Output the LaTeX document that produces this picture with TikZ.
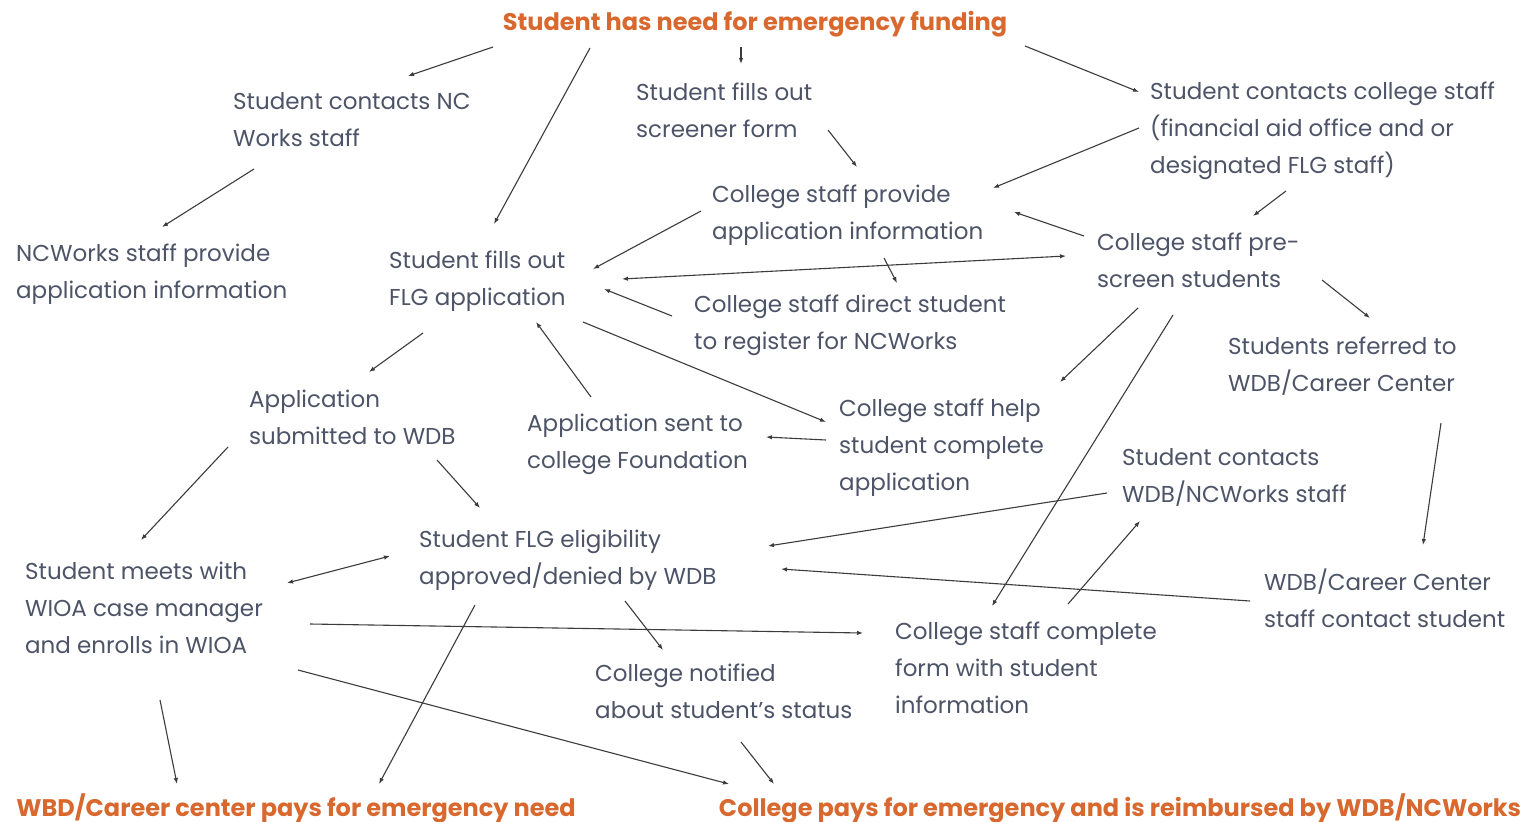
\documentclass[tikz,border=0pt]{standalone}
\usepackage{fontspec}
\setmainfont{Poppins}
\usetikzlibrary{arrows.meta}
\definecolor{stepgray}{HTML}{4E5468}
\definecolor{endorange}{HTML}{D8682E}
\definecolor{linegray}{HTML}{3C3C3C}

\begin{document}
\begin{tikzpicture}[x=1pt,y=-1pt]
        \tikzstyle{every node}=[inner sep=0pt,anchor=base west,align=left,text=stepgray,font=\fontsize{23}{37}\selectfont]
        \tikzstyle{goal}=[anchor=base,text=endorange,font=\fontsize{24}{37}\selectfont\bfseries]
        \tikzstyle{arr}=[draw=linegray,line width=1.1pt,-{Latex[length=6pt,width=4.5pt]}]
        \tikzstyle{both}=[arr,{Latex[length=6pt,width=4.5pt]}-{Latex[length=6pt,width=4.5pt]}]
        \useasboundingbox[fill=white] (0,0) rectangle (1540,822);
        \node[goal] (need) at (755,30) {Student has need for emergency funding};
        \node (ncstaff) at (233,146) {Student contacts NC\\Works staff};
        \node (screener) at (636,137) {Student fills out\\screener form};
        \node (college) at (1150,173) {Student contacts college staff\\(financial aid office and or\\designated FLG staff)};
        \node (cprovide) at (712,239) {College staff provide\\application information};
        \node (ncprovide) at (16,298) {NCWorks staff provide\\application information};
        \node (flg) at (389,305) {Student fills out\\FLG application};
        \node (prescreen) at (1097,287) {College staff pre-\\screen students};
        \node (direct) at (694,349) {College staff direct student\\to register for NCWorks};
        \node (referred) at (1228,391) {Students referred to\\WDB/Career Center};
        \node (submitted) at (249,444) {Application\\submitted to WDB};
        \node (sent) at (527,468) {Application sent to\\college Foundation};
        \node (help) at (839,490) {College staff help\\student complete\\application};
        \node (contacts) at (1122,502) {Student contacts\\WDB/NCWorks staff};
        \node (eligib) at (419,584) {Student FLG eligibility\\approved/denied by WDB};
        \node (meets) at (25,653) {Student meets with\\WIOA case manager\\and enrolls in WIOA};
        \node (wdbcontact) at (1264,627) {WDB/Career Center\\staff contact student};
        \node (complete) at (895,713) {College staff complete\\form with student\\information};
        \node (notified) at (595,718) {College notified\\about student's status};
        \node[goal] (wbdpays) at (296,816) {WBD/Career center pays for emergency need};
        \node[goal] (collegepays) at (1120,816) {College pays for emergency and is reimbursed by WDB/NCWorks};
        \draw[arr] ([shift={(-262,17)}]need.base) -- ([shift={(175,-70)}]ncstaff.base west);
        \draw[arr] ([shift={(-165,18)}]need.base) -- ([shift={(105,-81)}]flg.base west);
        \draw[arr] ([shift={(-14,17)}]need.base) -- ([shift={(105,-73)}]screener.base west);
        \draw[arr] ([shift={(270,16)}]need.base) -- ([shift={(-11,-81)}]college.base west);
        \draw[arr] ([shift={(21,23)}]ncstaff.base west) -- ([shift={(146,-71)}]ncprovide.base west);
        \draw[arr] ([shift={(192,-7)}]screener.base west) -- ([shift={(145,-72)}]cprovide.base west);
        \draw[arr] ([shift={(-11,-45)}]college.base west) -- ([shift={(281,-51)}]cprovide.base west);
        \draw[arr] ([shift={(136,18)}]college.base west) -- ([shift={(156,-71)}]prescreen.base west);
        \draw[arr] ([shift={(-11,-28)}]cprovide.base west) -- ([shift={(204,-36)}]flg.base west);
        \draw[arr] ([shift={(-13,-51)}]prescreen.base west) -- ([shift={(302,-27)}]cprovide.base west);
        \draw[both] ([shift={(233,-26)}]flg.base west) -- ([shift={(-31,-31)}]prescreen.base west);
        \draw[arr] ([shift={(172,19)}]cprovide.base west) -- ([shift={(203,-66)}]direct.base west);
        \draw[arr] ([shift={(-22,-33)}]direct.base west) -- ([shift={(215,-16)}]flg.base west);
        \draw[arr] ([shift={(34,28)}]flg.base west) -- ([shift={(120,-72)}]submitted.base west);
        \draw[arr] ([shift={(64,-71)}]sent.base west) -- ([shift={(147,17)}]flg.base west);
        \draw[arr] ([shift={(194,17)}]flg.base west) -- ([shift={(-13,-68)}]help.base west);
        \draw[arr] ([shift={(-13,-50)}]help.base west) -- ([shift={(239,-31)}]sent.base west);
        \draw[arr] ([shift={(41,21)}]prescreen.base west) -- ([shift={(221,-108)}]help.base west);
        \draw[arr] ([shift={(76,28)}]prescreen.base west) -- ([shift={(97,-107)}]complete.base west);
        \draw[arr] ([shift={(225,-7)}]prescreen.base west) -- ([shift={(142,-73)}]referred.base west);
        \draw[arr] ([shift={(213,32)}]referred.base west) -- ([shift={(159,-82)}]wdbcontact.base west);
        \draw[arr] ([shift={(-21,3)}]submitted.base west) -- ([shift={(116,-113)}]meets.base west);
        \draw[arr] ([shift={(188,16)}]submitted.base west) -- ([shift={(61,-76)}]eligib.base west);
        \draw[arr] ([shift={(-15,-9)}]contacts.base west) -- ([shift={(349,-38)}]eligib.base west);
        \draw[arr] ([shift={(173,-109)}]complete.base west) -- ([shift={(18,19)}]contacts.base west);
        \draw[arr] ([shift={(-14,-26)}]wdbcontact.base west) -- ([shift={(362,-15)}]eligib.base west);
        \draw[both] ([shift={(262,-70)}]meets.base west) -- ([shift={(-29,-28)}]eligib.base west);
        \draw[arr] ([shift={(285,-29)}]meets.base west) -- ([shift={(-32,-80)}]complete.base west);
        \draw[arr] ([shift={(206,17)}]eligib.base west) -- ([shift={(68,-68)}]notified.base west);
        \draw[arr] ([shift={(56,21)}]eligib.base west) -- ([shift={(83,-32)}]wbdpays.base);
        \draw[arr] ([shift={(135,47)}]meets.base west) -- ([shift={(-119,-32)}]wbdpays.base);
        \draw[arr] ([shift={(273,17)}]meets.base west) -- ([shift={(-391,-32)}]collegepays.base);
        \draw[arr] ([shift={(146,24)}]notified.base west) -- ([shift={(-346,-32)}]collegepays.base);
\end{tikzpicture}
\end{document}
